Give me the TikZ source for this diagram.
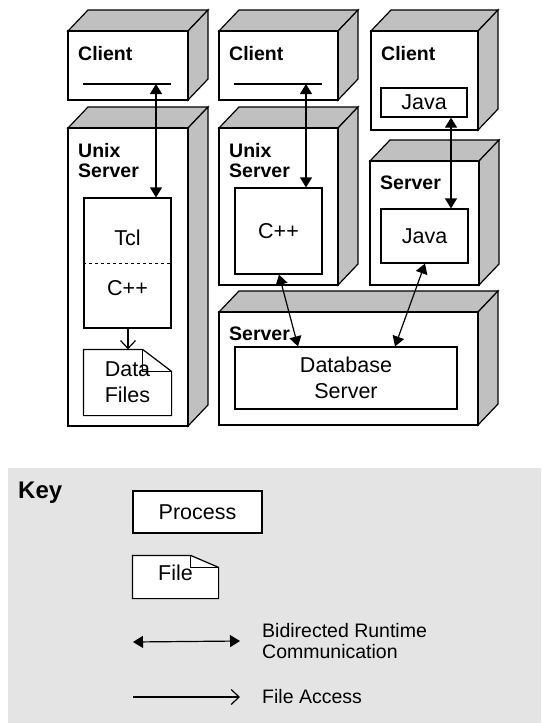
\documentclass[tikz,border=0pt]{standalone}
\usepackage{fontspec}
\setmainfont{Liberation Sans}
\usetikzlibrary{arrows.meta}
\definecolor{boxgray}{RGB}{192,192,192}
\definecolor{keygray}{RGB}{228,228,228}
\newcommand{\hostbox}[5]{%
  \filldraw[fill=boxgray, line width=1.2pt] (#1,#2) -- ({#1+20},{#2-21}) -- ({#3+20},{#2-21}) -- (#3,#2) -- cycle;
  \filldraw[fill=boxgray, line width=1.2pt] (#3,#2) -- ({#3+20},{#2-21}) -- ({#3+20},{#4-21}) -- (#3,#4) -- cycle;
  \filldraw[fill=white, line width=1.2pt] (#1,#2) rectangle (#3,#4);
  \node[hostlbl] at ({#1+10},{#2+15}) {#5};
}
\newcommand{\docfold}[3]{%
  \filldraw[fill=white, line width=1.2pt] (#1.north west) -- ([xshift=-#2pt]#1.north east) -- ([yshift=-#3pt]#1.north east) -- (#1.south east) -- (#1.south west) -- cycle;
  \draw[line width=1.2pt] ([xshift=-#2pt]#1.north east) |- ([yshift=-#3pt]#1.north east);
}

\begin{document}
\begin{tikzpicture}[x=1pt, y=-1pt,
  hostlbl/.style={anchor=north west, inner sep=0, align=left, font=\bfseries\fontsize{19.5}{20}\selectfont},
  proc/.style={draw, fill=white, line width=1.2pt, inner sep=0, align=center, font=\fontsize{21.5}{26}\selectfont},
  txt/.style={inner sep=0, font=\fontsize{21.5}{26}\selectfont},
  keytxt/.style={anchor=west, inner sep=0, align=left, font=\fontsize{19.5}{21}\selectfont},
  bidir/.style={{Triangle[length=10pt,width=12pt]}-{Triangle[length=10pt,width=12pt]}, line width=1.2pt},
  access/.style={-{Straight Barb[length=8pt,width=15pt]}, line width=1.2pt}]
\useasboundingbox (0,0) rectangle (541,723);

% deployment nodes
\hostbox{68}{31}{188}{100}{Client}
\hostbox{68}{128}{188}{426}{Unix\\Server}
\hostbox{219}{31}{338}{100}{Client}
\hostbox{219}{128}{338}{285}{Unix\\Server}
\hostbox{371}{31}{478}{130}{Client}
\hostbox{370}{161}{479}{285}{Server}
\hostbox{219}{312}{478}{425}{Server}

% client user interfaces
\draw[line width=1.2pt] (83,84) -- (171,84);
\draw[line width=1.2pt] (234,84) -- (322,84);
\coordinate (ui1) at (156,84);
\coordinate (ui2) at (306,84);

% processes and files
\node[proc, minimum width=87pt, minimum height=130pt] (tcl) at (127.5,263) {};
\draw[dashed, line width=0.9pt] (tcl.west) -- (tcl.east);
\node[txt] at (127.5,238) {Tcl};
\node[txt] at (127.5,288) {C++};
\node[proc, draw=none, fill=none, minimum width=87pt, minimum height=65pt] (files) at (127.5,382.5) {};
\docfold{files}{29}{22}
\node[txt, align=center] at (127.5,382.5) {Data\\Files};
\node[proc, minimum width=87pt, minimum height=86pt] (cpp) at (278.5,231) {C++};
\node[proc, minimum width=86pt, minimum height=29pt] (javac) at (424,102.5) {Java};
\node[proc, minimum width=87pt, minimum height=54pt] (javas) at (424.5,236) {Java};
\node[proc, minimum width=222pt, minimum height=62pt] (dbs) at (346,378) {Database\\Server};

% connections
\draw[bidir] (ui1) -- (ui1 |- tcl.north);
\draw[bidir] (ui2) -- (ui2 |- cpp.north);
\draw[bidir] ([xshift=27pt]javac.south) -- ([xshift=26.5pt]javas.north);
\draw[bidir] ([xshift=0.5pt]cpp.south) -- ([xshift=-48pt]dbs.north);
\draw[bidir] ([xshift=0.5pt]javas.south) -- ([xshift=49pt]dbs.north);
\draw[access] ([xshift=0.5pt]tcl.south) -- ([xshift=0.5pt]files.north);

% key
\fill[keygray] (8,468) rectangle (541,723);
\node[anchor=north west, inner sep=0, font=\bfseries\fontsize{24}{25}\selectfont] (key) at (18,482) {Key};
\node[proc, minimum width=129pt, minimum height=42pt] (kproc) at (197.5,512) {Process};
\node[proc, draw=none, fill=none, minimum width=85pt, minimum height=42pt] (kfile) at (175.5,577) {};
\docfold{kfile}{28}{12}
\node[txt] at (175.5,573) {File};
\node[keytxt] (kbid) at (262,641) {Bidirected Runtime\\Communication};
\node[keytxt] (kacc) at (262,697) {File Access};
\coordinate (kb) at (133,642);
\coordinate (ka) at (133,697);
\draw[bidir] (kb) -- ([xshift=-22pt]kbid.west);
\draw[access] (ka) -- ([xshift=-22pt]kacc.west);
\end{tikzpicture}
\end{document}
